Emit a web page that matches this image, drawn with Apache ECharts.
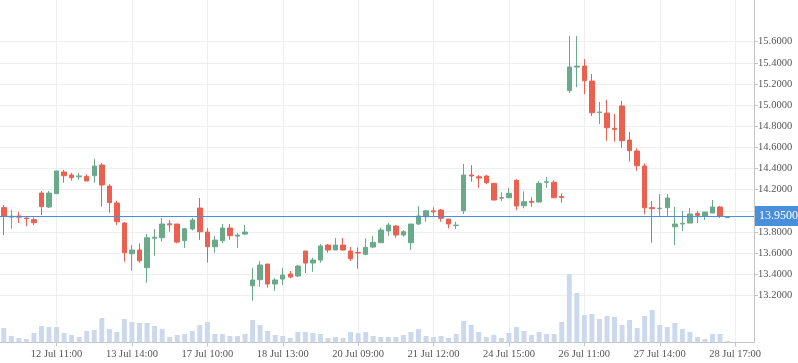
<!DOCTYPE html>
<html>
<head>
<meta charset="utf-8">
<script src="https://cdn.jsdelivr.net/npm/echarts@6/dist/echarts.min.js"></script>
<style>
html,body{margin:0;padding:0;background:#fff;}
#chart{width:798px;height:363px;}
</style>
</head>
<body>
<div id="chart"></div>
<script>
// ---- data ----
const tickLabels = ['12 Jul 11:00','13 Jul 14:00','17 Jul 10:00','18 Jul 13:00','20 Jul 09:00',
                    '21 Jul 12:00','24 Jul 15:00','26 Jul 11:00','27 Jul 14:00','28 Jul 17:00'];
const tickLabelIndex = [7,17,27,37,47,57,67,77,87,97];
const categoryCount = 100;

const openVals = [14.03,13.94,13.95,13.932,13.916,14.168,14.036,14.162,14.367,14.339,
  14.322,14.326,14.332,14.433,14.234,14.074,13.884,13.594,13.629,13.461,
  13.74,13.745,13.877,13.875,13.717,13.828,14.026,13.799,13.66,13.717,
  13.837,13.76,13.78,13.291,13.348,13.496,13.307,13.354,13.402,13.383,
  13.619,13.506,13.534,13.676,13.629,13.676,13.619,13.607,13.588,13.657,
  13.698,13.809,13.856,13.771,13.698,13.875,13.944,14.0,14.007,13.922,
  13.86,14.001,14.339,14.322,14.329,14.26,14.12,14.124,14.289,14.048,
  14.09,14.083,14.27,14.27,14.135,15.137,15.36,15.37,15.228,14.93,
  14.925,14.78,14.992,14.67,14.566,14.424,14.03,14.02,14.029,13.849,
  13.875,13.884,13.976,13.951,13.979,14.036,13.935];
const closeVals = [13.95,13.95,13.94,13.925,13.887,14.039,14.168,14.377,14.332,14.313,
  14.33,14.282,14.424,14.244,14.077,13.897,13.603,13.629,13.527,13.745,
  13.75,13.875,13.867,13.704,13.83,13.913,13.802,13.66,13.723,13.837,
  13.764,13.77,13.799,13.345,13.487,13.307,13.345,13.392,13.373,13.477,
  13.506,13.534,13.667,13.629,13.676,13.629,13.546,13.6,13.654,13.702,
  13.818,13.865,13.771,13.802,13.875,13.951,14.0,13.99,13.929,13.875,
  13.865,14.339,14.33,14.31,14.266,14.102,14.125,14.165,14.045,14.086,
  14.08,14.26,14.275,14.124,14.125,15.361,15.37,15.231,14.928,14.935,
  14.786,14.77,14.663,14.569,14.427,14.029,14.02,14.025,14.121,13.875,
  13.882,13.97,13.957,13.988,14.036,13.951,13.945];
const lowVals = [13.77,13.83,13.885,13.856,13.865,13.96,14.026,14.162,14.266,14.285,
  14.294,14.282,14.266,14.039,13.982,13.865,13.518,13.433,13.509,13.319,
  13.575,13.707,13.802,13.692,13.648,13.815,13.723,13.509,13.603,13.692,
  13.726,13.65,13.771,13.149,13.281,13.272,13.243,13.297,13.361,13.373,
  13.411,13.423,13.509,13.603,13.629,13.622,13.525,13.452,13.579,13.645,
  13.698,13.764,13.745,13.755,13.629,13.865,13.897,13.951,13.897,13.834,
  13.828,13.97,14.275,14.218,14.251,14.10,14.095,14.124,14.007,14.023,
  14.039,14.077,14.218,14.124,14.077,15.112,15.169,15.105,14.897,14.821,
  14.663,14.654,14.597,14.464,14.379,13.967,13.698,13.951,13.951,13.676,
  13.809,13.884,13.884,13.913,13.979,13.932,13.935];
const highVals = [14.055,14.01,13.99,13.938,13.938,14.187,14.187,14.377,14.386,14.36,
  14.36,14.345,14.49,14.452,14.253,14.095,13.894,13.676,13.692,13.78,
  13.828,13.932,13.913,13.875,13.84,13.932,14.121,13.837,13.761,13.875,
  13.875,13.79,13.865,13.461,13.525,13.496,13.364,13.458,13.43,13.487,
  13.619,13.556,13.686,13.686,13.742,13.742,13.657,13.654,13.74,13.761,
  13.84,13.887,13.865,13.818,13.875,14.045,14.007,14.033,14.017,13.922,
  13.897,14.443,14.433,14.339,14.339,14.26,14.175,14.216,14.298,14.184,
  14.128,14.282,14.32,14.289,14.165,15.654,15.654,15.437,15.295,15.03,
  15.049,14.916,15.04,14.746,14.591,14.449,14.093,14.159,14.159,14.036,
  13.998,14.026,13.998,13.988,14.102,14.045,13.945];
const volumeVals = [1430,630,430,330,930,1630,1530,1530,930,730,
  530,1130,1230,2430,1330,1030,2330,2030,1930,1930,
  1630,1330,530,730,830,1130,1730,2030,830,830,
  630,630,830,2230,1730,1130,730,630,430,1030,
  1030,930,830,430,530,430,1030,930,1030,630,
  530,530,530,730,1030,1330,630,530,630,430,
  830,2130,1730,1030,530,730,430,930,1530,1130,
  730,1030,830,830,2030,6830,4930,2730,2830,2330,
  2630,2530,1730,2230,1430,2630,3230,1730,1530,1930,
  1330,1030,530,330,830,830,130];
const lastPrice = 13.95;

// ---- build library inputs ----
const categories = [];
for (let i = 0; i < categoryCount; i++) {
  const k = tickLabelIndex.indexOf(i);
  categories.push(k >= 0 ? tickLabels[k] : 'bar ' + i);
}
const candleData = openVals.map((o, i) => [o, closeVals[i], lowVals[i], highVals[i]]);
const showAt = (idx) => tickLabelIndex.indexOf(idx) >= 0;

const FONT = 'Liberation Serif';
const GRID_COLOR = '#eeeeee';
const AXIS_COLOR = '#c4c4c4';

const chart = echarts.init(document.getElementById('chart'), null, {renderer: 'canvas'});
chart.setOption({
  animation: false,
  backgroundColor: '#ffffff',
  grid: [
    {left: 0, right: 44, top: 25.9, bottom: 57.1},
    {left: 0, right: 44, top: 0, bottom: 20.7}
  ],
  xAxis: [
    {type: 'category', gridIndex: 0, data: categories, boundaryGap: true, show: false},
    {type: 'category', gridIndex: 1, data: categories, boundaryGap: true,
     axisLine: {show: true, lineStyle: {color: AXIS_COLOR}},
     axisTick: {show: true, interval: showAt, alignWithLabel: true, length: 4, lineStyle: {color: AXIS_COLOR}},
     axisLabel: {show: true, interval: showAt, color: '#555', fontFamily: FONT, fontSize: 10.5, margin: 6},
     splitLine: {show: true, interval: showAt, alignWithLabel: true, lineStyle: {color: GRID_COLOR, width: 1}}
    }
  ],
  yAxis: [
    {type: 'value', gridIndex: 0, position: 'right', scale: true, min: 13.1, max: 15.75, splitNumber: 13,
     axisLine: {show: false},
     axisTick: {show: true, length: 4, lineStyle: {color: AXIS_COLOR}},
     axisLabel: {show: true, showMinLabel: false, showMaxLabel: false, color: '#555', fontFamily: FONT, fontSize: 10.5, margin: 4,
                 formatter: (v) => v.toFixed(4)},
     splitLine: {show: true, showMinLine: false, showMaxLine: false, lineStyle: {color: GRID_COLOR, width: 1}}
    },
    {type: 'value', gridIndex: 1, position: 'right', min: 0, max: 34230,
     axisLine: {show: true, lineStyle: {color: AXIS_COLOR}},
     axisTick: {show: false}, axisLabel: {show: false}, splitLine: {show: false}
    }
  ],
  series: [
    {type: 'bar', name: 'Volume', xAxisIndex: 1, yAxisIndex: 1, data: volumeVals,
     barWidth: '66%', itemStyle: {color: '#ccd9ec'}, z: 1},
    {type: 'candlestick', name: 'Price', xAxisIndex: 0, yAxisIndex: 0, data: candleData,
     barWidth: '66%', clip: false, z: 3,
     itemStyle: {color: '#6aaa8b', color0: '#eb6150', borderColor: '#6aaa8b', borderColor0: '#eb6150', borderWidth: 1},
     markLine: {
       silent: true, symbol: ['none', 'none'], animation: false,
       data: [{yAxis: lastPrice}],
       lineStyle: {color: '#4a8fdc', width: 1.2, type: 'solid'},
       label: {show: true, position: 'end', distance: 1, formatter: () => lastPrice.toFixed(4),
               backgroundColor: '#4a8fdc', color: '#ffffff', fontFamily: FONT, fontSize: 12,
               padding: [4, 4, 4, 4]},
       emphasis: {disabled: true}
     }
    }
  ]
});
</script>
</body>
</html>
